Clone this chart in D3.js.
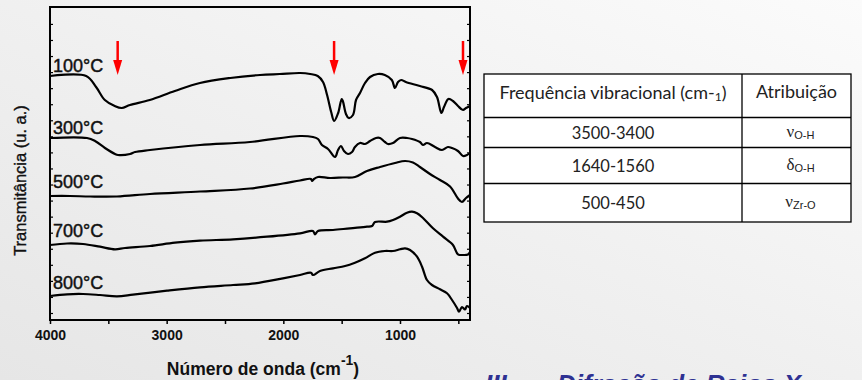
<!DOCTYPE html>
<html>
<head>
<meta charset="utf-8">
<script src="https://cdn.jsdelivr.net/npm/d3@7"></script>
<style>
body { margin: 0; background: #f0f0f0; }
svg { display: block; }
</style>
</head>
<body>
<div id="chart"></div>
<script>
// spectra, wavenumber (cm-1) vs transmittance (arbitrary units, curves stacked)
const wn100 = [4000,3690,3605,3530,3445,3385,3315,3145,2930,2715,2455,2200,2030,1855,1770,1705,1660,1625,1590,1565,1530,1500,1490,1463,1440,1403,1377,1343,1300,1257,1190,1130,1070,1043,1017,990,950,830,725,683,645,623,585,546,503,460,434,400];
const t100  = [2.44,2.44,2.33,2.20,2.14,2.12,2.15,2.20,2.29,2.37,2.42,2.45,2.46,2.47,2.46,2.44,2.38,2.25,2.08,1.99,2.07,2.21,2.19,2.06,2.02,2.05,2.20,2.27,2.37,2.43,2.46,2.45,2.40,2.32,2.38,2.40,2.38,2.34,2.30,2.23,2.07,2.13,2.21,2.19,2.14,2.10,2.12,2.14];

const wn300 = [4000,3683,3614,3529,3443,3417,3314,3271,3143,2714,2286,1857,1746,1703,1669,1617,1557,1531,1506,1480,1446,1411,1386,1343,1300,1257,1206,1171,1129,1103,1060,1000,940,897,829,803,769,700,640,589,554,503,460,426,400];
const t300  = [1.82,1.82,1.79,1.72,1.66,1.65,1.66,1.68,1.70,1.75,1.78,1.84,1.83,1.81,1.75,1.71,1.63,1.70,1.74,1.69,1.66,1.68,1.73,1.77,1.76,1.79,1.82,1.82,1.78,1.76,1.77,1.82,1.82,1.81,1.78,1.75,1.77,1.73,1.70,1.73,1.72,1.69,1.64,1.65,1.67];

const wn500 = [4000,3829,3657,3426,3143,2714,2286,2003,1857,1763,1754,1737,1703,1600,1489,1386,1283,1171,1043,957,889,829,743,657,571,503,469,434,400];
const t500  = [1.24,1.24,1.235,1.235,1.26,1.285,1.315,1.365,1.395,1.41,1.39,1.41,1.43,1.42,1.425,1.43,1.49,1.53,1.57,1.59,1.575,1.53,1.46,1.40,1.335,1.215,1.18,1.22,1.25];

const wn700 = [4000,3854,3717,3571,3443,3357,3143,2929,2714,2431,2140,1857,1746,1729,1703,1574,1429,1283,1240,1214,1111,1060,1000,940,897,854,803,717,631,546,503,460,417,400];
const t700  = [0.75,0.765,0.76,0.733,0.707,0.72,0.74,0.773,0.793,0.807,0.833,0.867,0.89,0.857,0.89,0.90,0.917,0.933,0.94,0.98,0.983,1.00,1.033,1.073,1.083,1.067,1.02,0.917,0.833,0.75,0.657,0.65,0.655,0.68];

const wn800 = [4000,3854,3717,3571,3426,3289,2997,2714,2431,2243,2003,1857,1763,1746,1686,1574,1471,1386,1300,1214,1129,1060,1000,957,914,854,811,769,726,657,597,554,511,494,469,443,426,400];
const t800  = [0.24,0.257,0.26,0.25,0.237,0.253,0.293,0.327,0.35,0.367,0.417,0.45,0.473,0.45,0.49,0.517,0.54,0.573,0.617,0.673,0.69,0.69,0.707,0.717,0.70,0.633,0.533,0.40,0.35,0.307,0.267,0.20,0.12,0.083,0.13,0.105,0.14,0.12];

const temps = ["100°C","300°C","500°C","700°C","800°C"];
const xTicks = [4000,3500,3000,2500,2000,1500,1000,500];
const arrowMarks = [3420, 1565, 460];

// table
const tableHeader = ["Frequência vibracional (cm-", "1", ")"];
const tableHeader2 = "Atribuição";
const freqRanges = ["3500-3400","1640-1560","500-450"];
const modeSymbols = ["ν","δ","ν"];
const modeBonds = ["O-H","O-H","Zr-O"];

const width = 862, height = 380;
const pl = 50, pr = 470, pt = 7, pb = 320;

const svg = d3.select('#chart').append('svg')
  .attr('width', width).attr('height', height);

const defs = svg.append('defs');
const grad = defs.append('linearGradient').attr('id','bg')
  .attr('x1','0').attr('y1','1').attr('x2','1').attr('y2','0');
grad.append('stop').attr('offset','0').attr('stop-color','#e6e6e6');
grad.append('stop').attr('offset','0.5').attr('stop-color','#f0f0f0');
grad.append('stop').attr('offset','1').attr('stop-color','#fbfbfb');
svg.append('rect').attr('width', width).attr('height', height).attr('fill','url(#bg)');

const x = d3.scaleLinear().domain([4000, 400]).range([pl, pr]);
const y = d3.scaleLinear().domain([0, 3.13]).range([pb, pt]);

// axes
const gx = svg.append('g').attr('transform', `translate(0,${pb})`)
  .call(d3.axisBottom(x).tickValues(xTicks).tickSizeInner(4).tickSizeOuter(0)
    .tickFormat(d => d % 1000 === 0 ? d : ""));
gx.select('.domain').remove();
gx.selectAll('line').attr('stroke','#000').attr('stroke-width',1.5);
gx.selectAll('text').attr('font-family','Liberation Sans, Arial, sans-serif')
  .attr('font-size', 14).attr('font-weight','bold').attr('fill','#111').attr('dy','0.95em');

const yTicks = d3.range(0, 19).map(k => 0.07 + k * 0.1606);
const gy = svg.append('g').attr('transform', `translate(${pl},0)`)
  .call(d3.axisLeft(y).tickValues(yTicks).tickSizeInner(-3).tickSizeOuter(0).tickFormat(''));
const gy2 = svg.append('g').attr('transform', `translate(${pr},0)`)
  .call(d3.axisRight(y).tickValues(yTicks).tickSizeInner(-3).tickSizeOuter(0).tickFormat(''));
[gy, gy2].forEach(g => {
  g.select('.domain').remove();
  g.selectAll('line').attr('stroke','#000').attr('stroke-width',1.2);
});

svg.append('rect').attr('x', pl).attr('y', pt)
  .attr('width', pr - pl).attr('height', pb - pt)
  .attr('fill','none').attr('stroke','#000').attr('stroke-width',2);

// curves
const series = [[wn100,t100],[wn300,t300],[wn500,t500],[wn700,t700],[wn800,t800]];
const line = d3.line()
  .x(d => x(d[0])).y(d => y(d[1]))
  .curve(d3.curveCatmullRom.alpha(0.5));

series.forEach(([wn, tv]) => {
  const pts = wn.map((w, j) => [w, tv[j]]);
  svg.append('path').datum(pts)
    .attr('d', line)
    .attr('fill','none').attr('stroke','#000')
    .attr('stroke-width',2.2).attr('stroke-linejoin','round');
});

const labelOffsets = [4, 4.5, 8.5, 8, 7];
svg.selectAll('.tlabel').data(temps).enter().append('text')
  .attr('class','tlabel')
  .attr('x', 53)
  .attr('y', (d, i) => y(series[i][1][0]) - labelOffsets[i])
  .attr('font-family','Liberation Sans, Arial, sans-serif')
  .attr('font-size', 18).attr('fill','#111')
  .attr('stroke','#111').attr('stroke-width',0.45)
  .text(d => d);

// red arrows
const arrows = svg.selectAll('.arrow').data(arrowMarks).enter().append('g')
  .attr('class','arrow')
  .attr('transform', d => `translate(${x(d)},0)`);
arrows.append('line').attr('x1',0).attr('x2',0).attr('y1',41).attr('y2',63)
  .attr('stroke','#ff0000').attr('stroke-width',2.5);
arrows.append('path').attr('d','M-4.5,60L4.5,60L0,75Z').attr('fill','#ff0000');

// axis titles
const xt = svg.append('text')
  .attr('x', 263).attr('y', 375).attr('text-anchor','middle')
  .attr('font-family','Liberation Sans, Arial, sans-serif')
  .attr('font-size', 17.5).attr('font-weight','bold').attr('fill','#111');
xt.append('tspan').text('Número de onda (cm');
xt.append('tspan').attr('font-size', 14).attr('dy', -10).text('-1');
xt.append('tspan').attr('dy', 10).text(')');

svg.append('text')
  .attr('transform', 'translate(26,180.5) rotate(-90)')
  .attr('text-anchor','middle')
  .attr('font-family','Liberation Sans, Arial, sans-serif')
  .attr('font-size', 16.5).attr('fill','#111')
  .attr('stroke','#111').attr('stroke-width',0.35)
  .text('Transmitância (u. a.)');

// table
const tx = [484, 742, 851];
const ty = [74, 117.5, 147.5, 183.5, 222];
const tbl = svg.append('g');
tbl.append('rect').attr('x', tx[0]).attr('y', ty[0])
  .attr('width', tx[2]-tx[0]).attr('height', ty[4]-ty[0])
  .attr('fill','#fff').attr('stroke','#000').attr('stroke-width',1.3);
tbl.append('line').attr('x1', tx[1]).attr('x2', tx[1]).attr('y1', ty[0]).attr('y2', ty[4])
  .attr('stroke','#000').attr('stroke-width',1.3);
ty.slice(1, 4).forEach(v => {
  tbl.append('line').attr('x1', tx[0]).attr('x2', tx[2]).attr('y1', v).attr('y2', v)
    .attr('stroke','#000').attr('stroke-width',1.3);
});
const tFont = 'Lato, "Open Sans", sans-serif';
const c1 = (tx[0]+tx[1])/2, c2 = (tx[1]+tx[2])/2;
const ht = tbl.append('text').attr('x', c1).attr('y', 99).attr('text-anchor','middle')
  .attr('font-family', tFont).attr('font-size', 18).attr('fill','#222');
ht.append('tspan').text(tableHeader[0]);
ht.append('tspan').attr('font-size', 12).attr('dy', 2).text(tableHeader[1]);
ht.append('tspan').attr('dy', -2).text(tableHeader[2]);
tbl.append('text').attr('x', c2).attr('y', 98).attr('text-anchor','middle')
  .attr('font-family', tFont).attr('font-size', 18).attr('fill','#222')
  .text(tableHeader2);

freqRanges.forEach((f, i) => {
  const cy = (ty[i+1] + ty[i+2]) / 2;
  tbl.append('text').attr('x', c1).attr('y', cy + 6).attr('text-anchor','middle')
    .attr('font-family', tFont).attr('font-size', 16.5).attr('fill','#222')
    .text(f);
  const s = tbl.append('text').attr('x', c2 + 4).attr('y', cy + 4).attr('text-anchor','middle')
    .attr('fill','#222');
  s.append('tspan').attr('font-family','Liberation Serif, Times New Roman, serif')
    .attr('font-size', 17).text(modeSymbols[i]);
  s.append('tspan').attr('font-family','Liberation Sans, Arial, sans-serif')
    .attr('font-size', 11).attr('dy', 2).text(modeBonds[i]);
});

// section title, cut off at the bottom edge as in the slide
const secFont = { family: 'Liberation Sans, Arial, sans-serif', size: 26 };
svg.append('text')
  .attr('x', 485).attr('y', 393)
  .attr('font-family', secFont.family).attr('font-size', secFont.size)
  .attr('font-weight','bold').attr('font-style','italic').attr('fill','#2e3192')
  .text('III –');
svg.append('text')
  .attr('x', 557).attr('y', 393)
  .attr('font-family', secFont.family).attr('font-size', secFont.size)
  .attr('font-weight','bold').attr('font-style','italic').attr('fill','#2e3192')
  .text('Difração de Raios X');
</script>
</body>
</html>
